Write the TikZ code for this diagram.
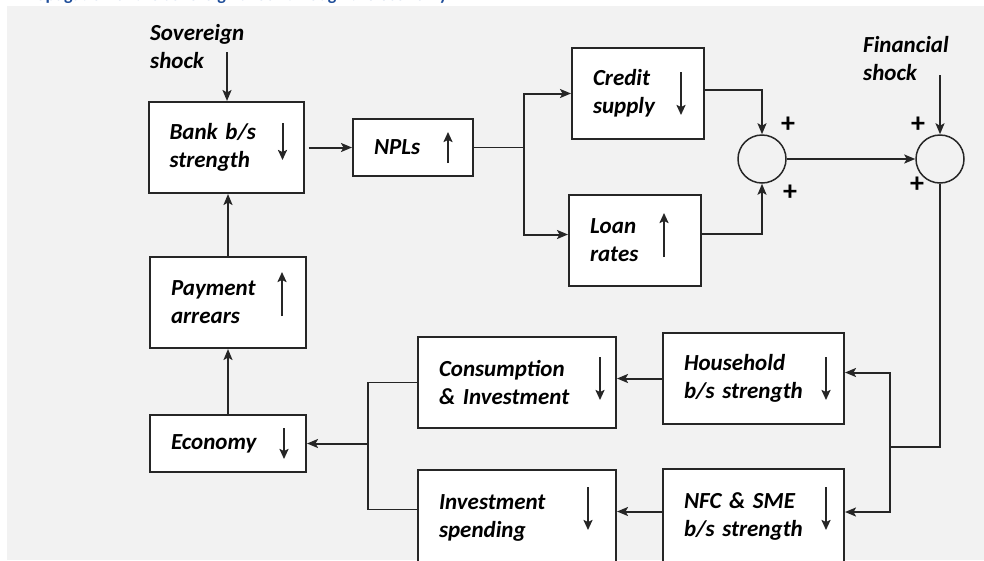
\documentclass[tikz,border=0pt]{standalone}
\usepackage{fontspec}
\setmainfont{Carlito}
\usetikzlibrary{arrows.meta, positioning, calc}
\definecolor{linecol}{HTML}{262626}
\definecolor{panel}{HTML}{F2F2F2}
\definecolor{titleblue}{HTML}{1F4E9A}
\tikzset{
	block/.style={draw=linecol, rectangle, fill=white, line width=2pt, inner xsep=21pt, inner ysep=0pt, align=left, minimum height=91pt, font=\bfseries\itshape\fontsize{23}{28}\selectfont},
	sumnode/.style={draw=linecol, circle, line width=1.5pt, minimum size=48pt, inner sep=0pt},
	% shock labels above the chart
	shock/.style={anchor=west, inner sep=0pt, align=left, font=\bfseries\itshape\fontsize{23}{28}\selectfont},
	sign/.style={inner sep=0pt, font=\bfseries\fontsize{28}{28}\selectfont},
	trend/.style={draw=linecol, line width=2pt, -{Stealth[length=10pt, width=9pt, inset=2pt]}},
}

\begin{document}
\begin{tikzpicture}[x=1pt, y=-1pt]
	\useasboundingbox (0,0) rectangle (984,560);
	\clip (0,0) rectangle (984,560);
	\fill[panel] (7,6) rectangle (984,560);
	% title of the chart, only its lower edge shows
	\node (title) [overlay, anchor=base west, inner sep=0pt, text=titleblue, font=\bfseries\fontsize{18}{20}\selectfont] at (20,0.5) {Propagation of the sovereign shock through the economy};
	
	\node (sov) [shock] at (150,46.5) {Sovereign\\shock};
	\node (fin) [shock] at (863,59) {Financial\\shock};
	\coordinate (sovtop) at (227,52);
	\coordinate (fintop) at (940,75);
	
	\node (bank) [block, text width=113pt] at (226,147.5) {Bank b/s\\strength};
	\node (npl) [block, text width=78pt, minimum height=57pt] at (413,147.5) {NPLs};
	\node (credit) [block, text width=90pt] at (638,93.5) {Credit\\supply};
	\node (loan) [block, text width=90pt] at (635,240.5) {Loan\\rates};
	
	\node (sum1) [sumnode] at (762,159) {};
	\node (sum2) [sumnode] at (940,159) {};
	\node (plus1) [sign] at (788,125) {+};
	\node (plus2) [sign] at (790,193) {+};
	\node (plus3) [sign] at (918,125) {+};
	\node (plus4) [sign] at (917,185) {+};
	
	\node (hh) [block, text width=139pt] at (753.5,378.5) {Household\\b/s strength};
	\node (nfc) [block, text width=139pt, minimum height=95pt, overlay] at (753.5,516.5) {NFC \& SME\\b/s strength};
	\node (cons) [block, text width=156pt] at (517,382.5) {Consumption\\\& Investment};
	\node (inv) [block, text width=156pt, minimum height=95pt, overlay] at (517,517.5) {Investment\\spending};
	
	\node (pay) [block, text width=114pt] at (228,302.5) {Payment\\arrears};
	\node (econ) [block, text width=114pt, minimum height=57pt] at (228,443.5) {Economy};
	
	\coordinate (split) at (524,147.5);
	\coordinate (merge) at (890,447);
	\coordinate (join) at (368,443.5);
	
	% up / down trends inside the boxes
	\draw[trend] ([xshift=-22pt, yshift=24.5pt]bank.east) -- ([xshift=-22pt, yshift=-12.5pt]bank.east);
	\draw[trend] ([xshift=-26pt, yshift=-15.5pt]npl.east) -- ([xshift=-26pt, yshift=15.5pt]npl.east);
	\draw[trend] ([xshift=-24pt, yshift=21.5pt]credit.east) -- ([xshift=-24pt, yshift=-21.5pt]credit.east);
	\draw[trend] ([xshift=-38pt, yshift=-16.5pt]loan.east) -- ([xshift=-38pt, yshift=27.5pt]loan.east);
	\draw[trend] ([xshift=-25pt, yshift=-13.5pt]pay.east) -- ([xshift=-25pt, yshift=30.5pt]pay.east);
	\draw[trend] ([xshift=-23pt, yshift=15.5pt]econ.east) -- ([xshift=-23pt, yshift=-15.5pt]econ.east);
	\draw[trend] ([xshift=-19pt, yshift=21.5pt]hh.east) -- ([xshift=-19pt, yshift=-21.5pt]hh.east);
	\draw[trend] ([xshift=-19pt, yshift=29.5pt]nfc.east) -- ([xshift=-19pt, yshift=-13.5pt]nfc.east);
	\draw[trend] ([xshift=-17pt, yshift=25.5pt]cons.east) -- ([xshift=-17pt, yshift=-17.5pt]cons.east);
	\draw[trend] ([xshift=-29pt, yshift=30.5pt]inv.east) -- ([xshift=-29pt, yshift=-12.5pt]inv.east);
	
	\begin{scope}[linecol, line width=1.3pt]
		\draw (npl.east) -- (split);
		\draw (sum2.south) |- (merge);
		\draw (cons.west) -| (join) |- ([yshift=8pt]inv.west);
	\end{scope}
	
	\begin{scope}[linecol, line width=2pt, ->, >={Stealth[length=11pt, width=9pt, inset=2.5pt]}]
		\draw (sovtop) -- (sovtop |- bank.north);
		\draw[shorten <=4pt] (bank.east) -- (npl.west);
		
		\draw (split) |- (credit.west);
		\draw (split) |- ([yshift=6pt]loan.west);
		\draw ([yshift=4pt]credit.east) -| (sum1.north);
		\draw ([yshift=7pt]loan.east) -| (sum1.south);
		\draw (sum1.east) -- (sum2.west);
		\draw (fintop) -- (sum2.north);
		
		\draw (merge) |- ([yshift=6pt]hh.east);
		\draw (merge) |- ([yshift=4.5pt]nfc.east);
		\draw (hh.west) -- (hh.west -| cons.east);
		\draw ([yshift=5pt]nfc.west) -- ([yshift=5pt]nfc.west -| inv.east);
		
		\draw (join) -- (econ.east);
		\draw (econ.north) -- (pay.south);
		\draw (pay.north) -- (pay.north |- bank.south);
	\end{scope}
	
\end{tikzpicture}
\end{document}
